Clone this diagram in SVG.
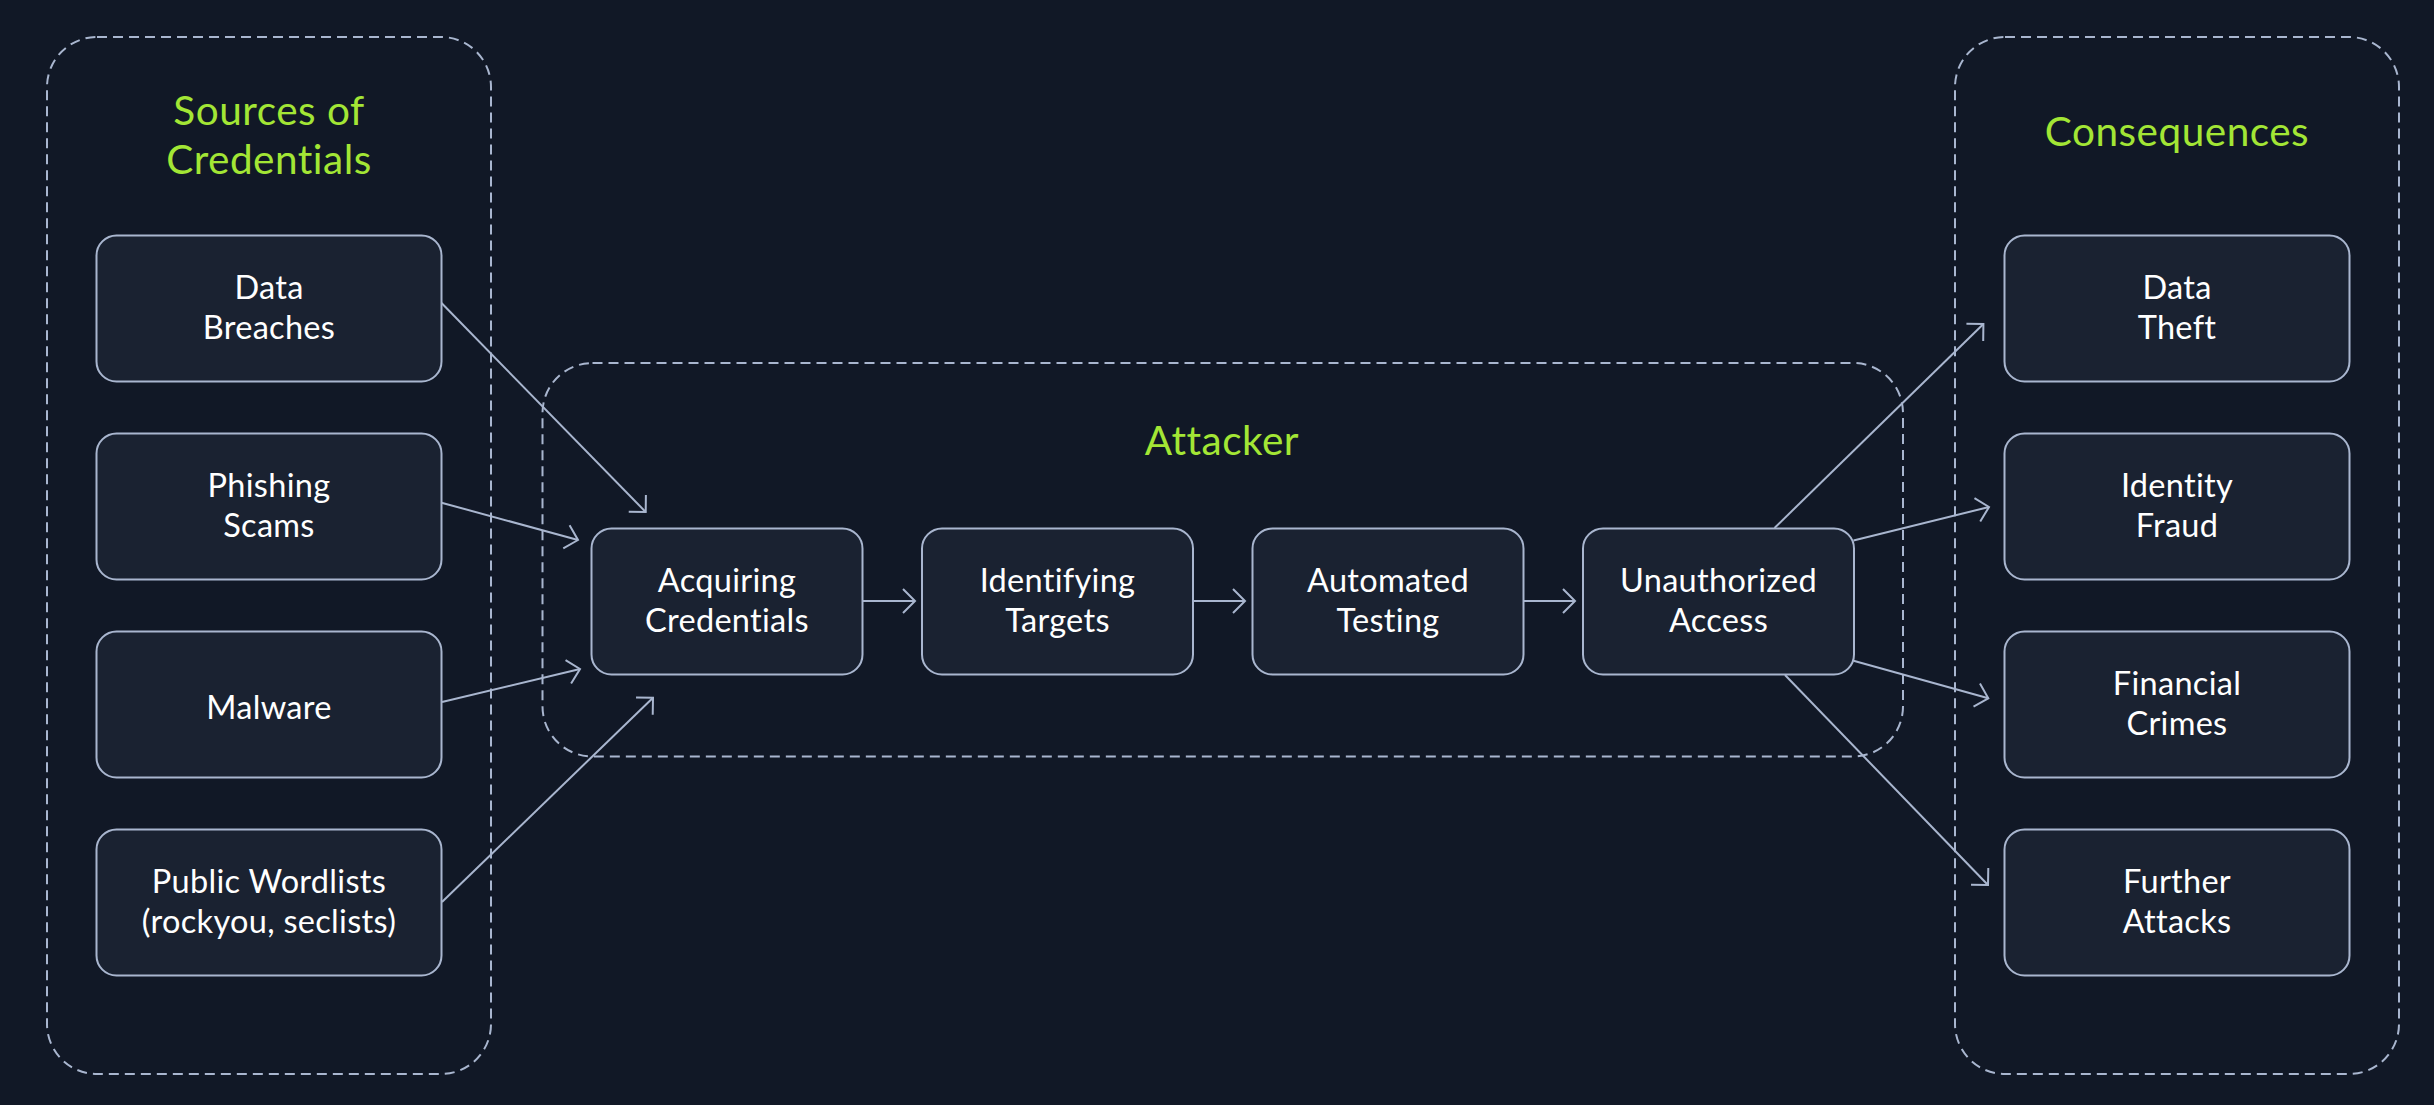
<svg xmlns="http://www.w3.org/2000/svg" width="2434" height="1105" viewBox="0 0 2434 1105">
<defs>
<marker id="arr" markerUnits="userSpaceOnUse" markerWidth="30" markerHeight="30" viewBox="-15 -15 30 30" refX="0" refY="0" orient="auto" overflow="visible">
<path d="M-12,-12 L0,0 L-12,12" fill="none" stroke="#a9b6cf" stroke-width="2"/>
</marker>
</defs>
<style>
.cluster{fill:none;stroke:#a9b6cf;stroke-width:2;stroke-dasharray:10 6}
.node rect{fill:#1a2231;stroke:#a9b6cf;stroke-width:2}
.node text{fill:#ffffff;font-family:Lato,"Liberation Sans",sans-serif;font-size:32.5px;letter-spacing:0.3px;text-anchor:middle;font-variant-ligatures:none}
.title{fill:#a3e635;font-family:Lato,"Liberation Sans",sans-serif;font-size:40.5px;letter-spacing:0.5px;text-anchor:middle;font-variant-ligatures:none}
.edge{fill:none;stroke:#a9b6cf;stroke-width:2;marker-end:url(#arr)}
</style>
<rect width="2434" height="1105" fill="#111826"/>

<g id="cluster-sources">
<rect class="cluster" x="47" y="37" width="444" height="1037" rx="50"/>
<text class="title"><tspan x="269" y="125">Sources of</tspan><tspan x="269" y="174">Credentials</tspan></text>
</g>
<g id="cluster-attacker">
<rect class="cluster" x="542.5" y="363" width="1360.5" height="393.5" rx="50"/>
<text class="title" x="1222" y="455">Attacker</text>
</g>
<g id="cluster-consequences">
<rect class="cluster" x="1955" y="37" width="444" height="1037" rx="50"/>
<text class="title" x="2177" y="146">Consequences</text>
</g>

<g id="connectors">
<path class="edge" d="M441.5,303 L645.7,512"/>
<path class="edge" d="M441.5,502.7 L578,540"/>
<path class="edge" d="M442,702 L580,669"/>
<path class="edge" d="M442,902 L653,697.7"/>
<path class="edge" d="M862.5,601 L915,601"/>
<path class="edge" d="M1193,601 L1245,601"/>
<path class="edge" d="M1523.5,601 L1575,601"/>
<path class="edge" d="M1774.5,528 L1983.4,324"/>
<path class="edge" d="M1853.5,540.5 L1989,507"/>
<path class="edge" d="M1853.5,660.7 L1988.3,698.3"/>
<path class="edge" d="M1785,675 L1988,885"/>
</g>

<g id="node-data-breaches" class="node">
<rect x="96.5" y="235.5" width="345" height="146" rx="20"/>
<text><tspan x="269" y="298.5">Data</tspan><tspan x="269" y="338.5">Breaches</tspan></text>
</g>
<g id="node-phishing" class="node">
<rect x="96.5" y="433.5" width="345" height="146" rx="20"/>
<text><tspan x="269" y="496.5">Phishing</tspan><tspan x="269" y="536.5">Scams</tspan></text>
</g>
<g id="node-malware" class="node">
<rect x="96.5" y="631.5" width="345" height="146" rx="20"/>
<text x="269" y="718.5">Malware</text>
</g>
<g id="node-wordlists" class="node">
<rect x="96.5" y="829.5" width="345" height="146" rx="20"/>
<text><tspan x="269" y="892.5">Public Wordlists</tspan><tspan x="269" y="932.5">(rockyou, seclists)</tspan></text>
</g>

<g id="node-acquiring" class="node">
<rect x="591.5" y="528.5" width="271" height="146" rx="20"/>
<text><tspan x="727" y="591.5">Acquiring</tspan><tspan x="727" y="631.5">Credentials</tspan></text>
</g>
<g id="node-identifying" class="node">
<rect x="922" y="528.5" width="271" height="146" rx="20"/>
<text><tspan x="1057.5" y="591.5">Identifying</tspan><tspan x="1057.5" y="631.5">Targets</tspan></text>
</g>
<g id="node-automated" class="node">
<rect x="1252.5" y="528.5" width="271" height="146" rx="20"/>
<text><tspan x="1388" y="591.5">Automated</tspan><tspan x="1388" y="631.5">Testing</tspan></text>
</g>
<g id="node-unauthorized" class="node">
<rect x="1583" y="528.5" width="271" height="146" rx="20"/>
<text><tspan x="1718.5" y="591.5">Unauthorized</tspan><tspan x="1718.5" y="631.5">Access</tspan></text>
</g>

<g id="node-data-theft" class="node">
<rect x="2004.5" y="235.5" width="345" height="146" rx="20"/>
<text><tspan x="2177" y="298.5">Data</tspan><tspan x="2177" y="338.5">Theft</tspan></text>
</g>
<g id="node-identity-fraud" class="node">
<rect x="2004.5" y="433.5" width="345" height="146" rx="20"/>
<text><tspan x="2177" y="496.5">Identity</tspan><tspan x="2177" y="536.5">Fraud</tspan></text>
</g>
<g id="node-financial" class="node">
<rect x="2004.5" y="631.5" width="345" height="146" rx="20"/>
<text><tspan x="2177" y="694.5">Financial</tspan><tspan x="2177" y="734.5">Crimes</tspan></text>
</g>
<g id="node-further" class="node">
<rect x="2004.5" y="829.5" width="345" height="146" rx="20"/>
<text><tspan x="2177" y="892.5">Further</tspan><tspan x="2177" y="932.5">Attacks</tspan></text>
</g>
</svg>
